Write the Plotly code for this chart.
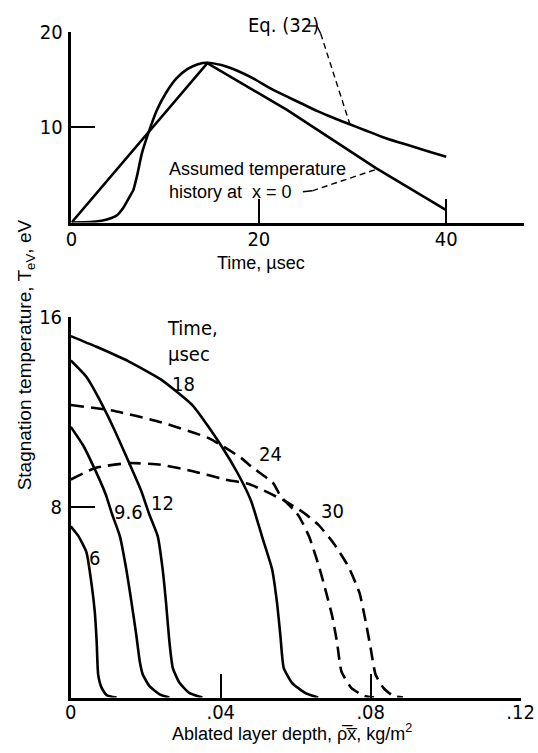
import plotly.graph_objects as go

# ---------------- Top panel: temperature history ----------------
tri_time = [0, 14.5, 23.0, 32.5, 40]
tri_temp = [0, 16.7, 11.8, 5.7, 1.3]

eq_time = [0, 2, 3.2, 4.2, 4.9, 5.5, 6.2, 6.6, 7.0, 7.5, 8.25, 9.1, 10.1, 11.2, 12.4,
           13.5, 14.5, 16, 17.7, 19.4, 21, 22.8, 24.5, 26.2, 28, 29.7, 31.4, 33.1,
           34.8, 36.5, 38.2, 40]
eq_temp = [0, 0.05, 0.2, 0.45, 0.8, 1.5, 2.7, 3.4, 4.9, 7.2, 9.5, 11.75, 13.6, 15.1, 16.1,
           16.6, 16.75, 16.5, 15.9, 15.1, 14.2, 13.3, 12.5, 11.7, 10.95, 10.3, 9.65, 9.0,
           8.45, 7.95, 7.42, 6.9]

top_xticks = [0, 20, 40]
top_xticklabels = ["0", "20", "40"]
top_yticks = [10, 20]
top_yticklabels = ["10", "20"]

# ---------------- Bottom panel: temperature profiles ----------------
depth_6 = [0, 0.001, 0.002, 0.0042, 0.0056, 0.0064, 0.0069, 0.0073, 0.0082, 0.0095, 0.0122]
temp_6 = [7.2, 7.0, 6.8, 6.1, 4.7, 3.6, 2.35, 0.97, 0.42, 0.11, 0]

depth_9p6 = [0, 0.0033, 0.0067, 0.0093, 0.011, 0.0131, 0.0148, 0.0162, 0.0175, 0.0184,
             0.0192, 0.021, 0.0237, 0.0263]
temp_9p6 = [11.38, 10.6, 9.5, 8.55, 7.72, 6.78, 5.4, 4.0, 2.6, 1.52, 0.97, 0.48, 0.14, 0]

depth_12 = [0, 0.0041, 0.0085, 0.0119, 0.0154, 0.0188, 0.0209, 0.0232, 0.0245, 0.0254,
            0.0263, 0.0272, 0.029, 0.0316, 0.0351]
temp_12 = [14.18, 13.5, 12.28, 11.17, 9.93, 8.69, 7.72, 6.78, 5.4, 4.0, 2.35, 1.25, 0.62, 0.2, 0]

depth_18 = [0, 0.0067, 0.0154, 0.024, 0.0326, 0.0403, 0.0447, 0.0481, 0.051, 0.0537, 0.055,
            0.0559, 0.0568, 0.059, 0.0625, 0.066]
temp_18 = [15.2, 14.76, 14.14, 13.38, 12.27, 10.55, 9.38, 8.27, 6.78, 5.4, 4.0, 2.63, 1.25,
           0.62, 0.2, 0]

depth_24 = [0, 0.011, 0.024, 0.0369, 0.0455, 0.0481, 0.0541, 0.0559, 0.0597, 0.061, 0.0636,
            0.0662, 0.0679, 0.0697, 0.071, 0.0722, 0.0748, 0.0783, 0.0809]
temp_24 = [12.3, 12.07, 11.58, 10.9, 10.07, 9.72, 9.0, 8.48, 7.86, 7.59, 6.76, 5.52, 4.55,
           3.45, 2.35, 1.1, 0.41, 0.07, 0]

depth_30 = [0, 0.0067, 0.0154, 0.024, 0.0326, 0.0412, 0.0477, 0.0567, 0.0619, 0.0662,
            0.0701, 0.074, 0.077, 0.0787, 0.08, 0.0813, 0.0834, 0.086, 0.0886]
temp_30 = [9.17, 9.66, 9.86, 9.79, 9.52, 9.17, 8.97, 8.3, 7.8, 7.24, 6.49, 5.52, 4.41, 3.17,
           2.07, 0.97, 0.41, 0.07, 0]

bot_xticks = [0, 0.04, 0.08, 0.12]
bot_xticklabels = ["0", ".04", ".08", ".12"]
bot_yticks = [8, 16]
bot_yticklabels = ["8", "16"]

# curve labels (text, depth, temperature)
curve_labels = [("6", 0.0062, 5.88), ("9.6", 0.0155, 7.82), ("12", 0.0244, 8.2),
                ("18", 0.030, 13.2), ("24", 0.0533, 10.24), ("30", 0.0697, 7.86)]

# leader lines in the top panel (annotation geometry, time / temperature units)
eq_hook_t = [25.1, 26.2, 26.6]
eq_hook_T = [20.6, 20.6, 19.8]
eq_lead_t = [26.6, 29.7]
eq_lead_T = [19.8, 10.35]
as_hook_t = [24.7, 25.7]
as_hook_T = [3.23, 3.33]
as_lead_t = [25.7, 32.6]
as_lead_T = [3.33, 5.6]

# ---------------- Figure ----------------
W, H = 538, 753
def px(x):
    return x / W
def py(y):
    return 1 - y / H

TOP_DOM = [py(214), py(20)]
TOP_YR = [0, 20]
def top_paper(v):
    # temperature value -> paper fraction on the top panel (for leaders above the frame)
    return TOP_DOM[0] + (v - TOP_YR[0]) / (TOP_YR[1] - TOP_YR[0]) * (TOP_DOM[1] - TOP_DOM[0])

NARROW = "Liberation Sans Narrow, DejaVu Sans Condensed, Liberation Sans, sans-serif"
REG = "Liberation Sans, Arial, sans-serif"
LW = 2.6
DASH = "13px,7px"

fig = go.Figure()

def add_line(x, y, xa, ya, dash="solid", width=LW, smooth=False):
    line = dict(color="black", width=width, dash=dash)
    if smooth:
        line.update(shape="spline", smoothing=0.5)
    fig.add_trace(go.Scatter(x=x, y=y, xaxis=xa, yaxis=ya, mode="lines", line=line,
                             cliponaxis=False, hoverinfo="skip", showlegend=False))

add_line(tri_time, tri_temp, "x", "y")
add_line(eq_time, eq_temp, "x", "y", smooth=True)
add_line(as_hook_t, as_hook_T, "x", "y", width=1.4)
add_line(as_lead_t, as_lead_T, "x", "y", dash="6px,4px", width=1.4)

add_line(depth_6, temp_6, "x2", "y2", smooth=True)
add_line(depth_9p6, temp_9p6, "x2", "y2", smooth=True)
add_line(depth_12, temp_12, "x2", "y2", smooth=True)
add_line(depth_18, temp_18, "x2", "y2", smooth=True)
add_line(depth_24, temp_24, "x2", "y2", dash=DASH, smooth=True)
add_line(depth_30, temp_30, "x2", "y2", dash=DASH, smooth=True)

# Eq. (32) leader: drawn as shapes so it can leave the top frame
shapes = []
for i in range(len(eq_hook_t) - 1):
    shapes.append(dict(type="line", xref="x", yref="paper",
                       x0=eq_hook_t[i], x1=eq_hook_t[i + 1],
                       y0=top_paper(eq_hook_T[i]), y1=top_paper(eq_hook_T[i + 1]),
                       line=dict(color="black", width=1.4)))
shapes.append(dict(type="line", xref="x", yref="paper",
                   x0=eq_lead_t[0], x1=eq_lead_t[1],
                   y0=top_paper(eq_lead_T[0]), y1=top_paper(eq_lead_T[1]),
                   line=dict(color="black", width=1.4, dash="6px,4px")))

axis_common = dict(showgrid=False, zeroline=False, showline=True, linecolor="black",
                   linewidth=2.5, ticks="inside", ticklen=24, tickwidth=2,
                   tickcolor="black", tickfont=dict(family=NARROW, size=20, color="black"),
                   ticklabeloverflow="allow", fixedrange=True)

fig.update_layout(
    width=W, height=H, margin=dict(l=0, r=0, t=0, b=0),
    paper_bgcolor="white", plot_bgcolor="white", showlegend=False,
    xaxis=dict(domain=[px(68), 1], range=[0, 48.3], tickmode="array",
               tickvals=top_xticks, ticktext=top_xticklabels, anchor="y",
               ticklabelstandoff=-3, **axis_common),
    yaxis=dict(domain=TOP_DOM, range=TOP_YR, tickmode="array",
               tickvals=top_yticks, ticktext=top_yticklabels, anchor="x",
               ticklabelstandoff=2, **axis_common),
    xaxis2=dict(domain=[px(67.3), px(534.5)], range=[0, 0.12], tickmode="array",
                tickvals=bot_xticks, ticktext=bot_xticklabels, anchor="y2",
                ticklabelstandoff=-5, **axis_common),
    yaxis2=dict(domain=[py(696.7), py(310)], range=[0, 16], tickmode="array",
                tickvals=bot_yticks, ticktext=bot_yticklabels, anchor="x2",
                ticklabelstandoff=2, **axis_common),
    shapes=shapes,
)

ann = []
# top panel text
ann.append(dict(text="Eq. (32)", x=18.6, y=top_paper(20.7), xref="x", yref="paper",
                xanchor="left", yanchor="middle", showarrow=False,
                font=dict(family=NARROW, size=20)))
ann.append(dict(text="Assumed temperature", x=10.2, y=5.6, xref="x", yref="y",
                xanchor="left", yanchor="middle", showarrow=False,
                font=dict(family=REG, size=18)))
ann.append(dict(text="history at  x = 0", x=10.2, y=3.23, xref="x", yref="y",
                xanchor="left", yanchor="middle", showarrow=False,
                font=dict(family=REG, size=18)))
ann.append(dict(text="Time, µsec", x=px(265), y=py(255), xref="paper", yref="paper",
                xanchor="center", yanchor="middle", showarrow=False,
                font=dict(family=REG, size=18)))
# bottom panel text
ann.append(dict(text="Time,<br>µsec", x=0.0252, y=15.0, xref="x2", yref="y2",
                xanchor="left", yanchor="middle", align="left", showarrow=False,
                font=dict(family=NARROW, size=20)))
for t, xv, yv in curve_labels:
    ann.append(dict(text=t, x=xv, y=yv, xref="x2", yref="y2", xanchor="center",
                    yanchor="middle", showarrow=False, font=dict(family=NARROW, size=20)))
ann.append(dict(text="Ablated layer depth, \u03c1\u0305x\u0305, kg/m<sup>2</sup>",
                x=px(297), y=py(732), xref="paper", yref="paper", xanchor="center",
                yanchor="middle", showarrow=False, font=dict(family=REG, size=18)))
ann.append(dict(text="Stagnation temperature, T<sub>eV</sub>, eV", x=px(21.7), y=py(348),
                xref="paper", yref="paper", xanchor="center", yanchor="middle",
                textangle=-90, showarrow=False, font=dict(family=REG, size=19)))
for a in ann:
    a.setdefault("font", {})
    a["font"]["color"] = "black"
fig.update_layout(annotations=ann)

fig.write_html(
    "out.html",
    post_script=("document.body.style.margin='0px';"
                 "document.body.style.padding='0px';"
                 "document.documentElement.style.overflow='hidden';"
                 "document.body.style.overflow='hidden';"),
)
